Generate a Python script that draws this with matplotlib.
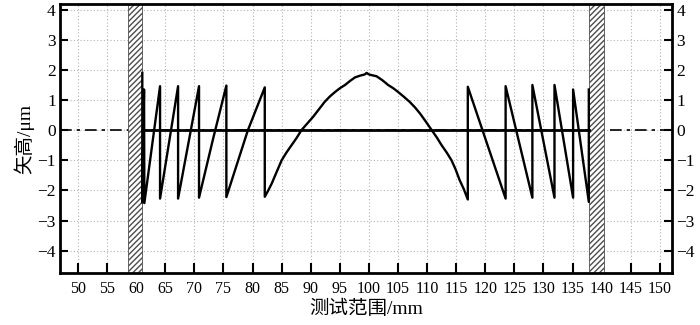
import matplotlib
matplotlib.use('Agg')
import matplotlib.pyplot as plt

plt.rcParams['font.family'] = ['Liberation Serif', 'Noto Sans CJK SC']
plt.rcParams['axes.unicode_minus'] = True
plt.rcParams['hatch.linewidth'] = 1.0

curve_x = [61.05, 61.05, 61.35, 61.4,
           64.1, 64.1, 67.2, 67.2, 70.8, 70.8, 73.2, 75.5, 75.5, 79.2, 82.1, 82.1,
           82.7, 83.3, 84.0, 85.0, 85.8, 86.7, 87.6, 88.4, 89.4, 90.4, 91.4, 92.4,
           93.3, 94.2, 95.0, 95.9, 96.8, 97.6, 98.5, 99.3, 99.6, 100.0, 100.6, 101.3,
           102.3, 103.3, 104.2, 105.0, 106.0, 107.0, 107.9, 108.8, 109.8, 110.8,
           111.7, 112.5, 113.4, 114.2, 114.9, 115.6, 116.3, 117.0, 117.0,
           123.5, 123.5, 128.1, 128.1, 131.9, 131.9, 135.1, 135.1, 137.8, 137.8]
curve_y = [1.90, -2.40, 1.35, -2.42,
           1.46, -2.27, 1.46, -2.27, 1.46, -2.24, -0.30, 1.48, -2.22, 0.0, 1.42, -2.21,
           -2.0, -1.77, -1.45, -1.0, -0.75, -0.50, -0.25, 0.0, 0.22, 0.44, 0.69, 0.94,
           1.12, 1.27, 1.39, 1.50, 1.64, 1.75, 1.81, 1.85, 1.90, 1.85, 1.82, 1.79,
           1.66, 1.50, 1.39, 1.27, 1.11, 0.94, 0.76, 0.55, 0.28, 0.0,
           -0.25, -0.50, -0.75, -1.0, -1.30, -1.66, -1.95, -2.30, 1.44,
           -2.27, 1.46, -2.24, 1.50, -2.24, 1.50, -2.24, 1.35, -2.38, 1.35]

# 阴影区 (边界区域)
hatch_left = (58.55, 60.95)
hatch_right = (137.85, 140.4)

# 坐标轴
x_ticks = list(range(50, 151, 5))
y_ticks = list(range(-4, 5))
x_lim = (46.9, 152.1)
y_lim = (-4.74, 4.19)

fig = plt.figure(figsize=(7, 3.25), dpi=100)
ax = fig.add_axes([0.0857, 0.16, 0.8743, 0.828])

ax.set_xlim(*x_lim)
ax.set_ylim(*y_lim)
ax.set_xticks(x_ticks)
ax.set_yticks(y_ticks)
ax.grid(True, linestyle=(0, (1, 2)), color='0.7', linewidth=0.8)
ax.set_axisbelow(True)

# 零线: 点划线 + 实线
ax.axhline(0, color='black', lw=1.2, linestyle=(0, (7, 3, 2, 3)), zorder=1)
for lo, hi in (hatch_left, hatch_right):
    ax.axvspan(lo, hi, facecolor='white', edgecolor='0.3', hatch='//////', lw=0.6, zorder=2)
ax.plot([hatch_left[1], hatch_right[0]], [0, 0], color='black', lw=2.0, zorder=3)

ax.plot(curve_x, curve_y, color='black', lw=1.7, zorder=4)

for s in ax.spines.values():
    s.set_linewidth(2.0)

ax.tick_params(axis='x', direction='in', length=7, width=1.5, labelsize=11.5, pad=6,
               top=False)
ax.tick_params(axis='y', direction='in', length=6, width=1.5, labelsize=12.5, pad=3,
               left=True, right=True, labelleft=True, labelright=True)

ax.set_xlabel('测试范围/mm', fontsize=14, labelpad=2)
ax.set_ylabel('矢高/μm', fontsize=14, labelpad=2)

fig.savefig('out.png', dpi=100)
